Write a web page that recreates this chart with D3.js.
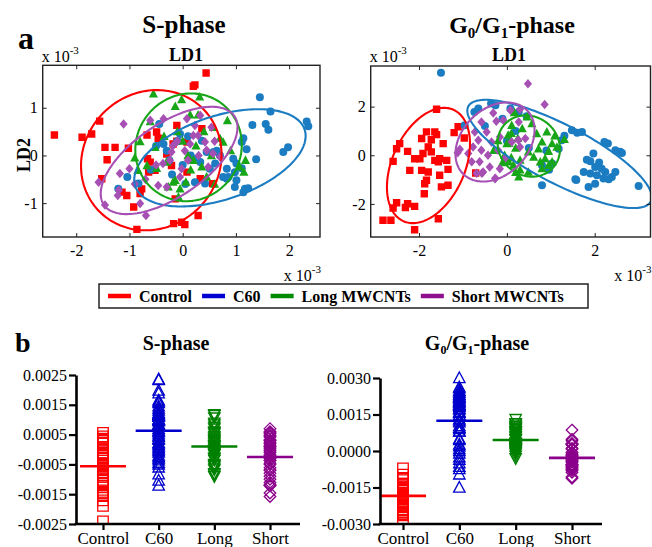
<!DOCTYPE html>
<html>
<head>
<meta charset="utf-8">
<script src="https://cdn.jsdelivr.net/npm/d3@7"></script>
<style>
  body { margin: 0; background: #fff; }
  svg { display: block; }
</style>
</head>
<body>
<svg id="fig" width="652" height="547"></svg>
<script>
// ---------- data ----------
const groups = ["Control", "C60", "Long MWCNTs", "Short MWCNTs"];
const groupsShort = ["Control", "C60", "Long", "Short"];

// S-phase discriminant scores [LD1, LD2] (x10^-3)
const sControl = [[-2.41,0.43],[-1.89,0.38],[-1.71,0.45],[-1.56,0.72],[-1.46,0.17],[-1.27,0.17],[-1.42,-0.09],[-1.02,0.15],[-1.52,-0.49],[-1.14,-0.77],[-1.05,-0.84],[-0.92,-1.08],[-0.8,-0.8],[-0.86,-1.55],[-0.67,0.43],[-0.49,0.49],[-0.46,0.36],[-0.66,-0.07],[-0.61,-0.14],[-0.64,-0.35],[-0.52,-0.31],[-0.3,0.03],[-0.18,0.24],[-0.21,-0.21],[-0.17,-1.43],[-0.02,-1.4],[-0.11,0.3],[-0.77,-0.7],[-0.11,0.63],[-0.14,-0.91],[0.44,1.73],[0.23,1.48],[0.2,1.45],[0.29,-1.26],[0.04,-1.45],[0.56,-0.59],[0.33,-0.49],[0.36,0.56],[0.08,-0.35],[0.08,0.28]];
const sC60 = [[1.45,1.22],[1.65,0.92],[1.31,0.64],[1.56,0.66],[1.61,0.54],[2.33,0.71],[2.36,0.61],[1.89,0.07],[1.98,0.17],[1.38,-0.08],[1.14,0.36],[1.2,0.13],[1.11,0.28],[0.95,-0.07],[1.01,-0.17],[0.98,-0.35],[1.01,-0.52],[0.98,-0.66],[1.17,-0.7],[1.23,-0.69],[1.14,-0.77],[1.11,-0.27],[0.86,-0.45],[0.83,-0.49],[0.64,0.1],[0.58,0.07],[0.45,0.07],[0.7,0.0],[0.51,-0.28],[0.42,-0.59],[0.23,-0.56],[0.33,-0.14],[0.36,0.31],[0.2,-0.07],[0.61,-0.17],[0.83,-0.28],[0.76,-0.45],[-1.04,-0.45],[-1.21,-0.7],[-0.83,-0.59],[-0.44,0.66],[-0.36,0.24],[-0.05,0.45],[-0.6,-0.3],[-0.3,0.1],[-0.2,-0.4],[-0.1,0.3],[0.0,-0.2],[0.1,0.4],[-0.5,0.2],[0.05,-0.6],[-0.25,-0.1],[0.15,0.0]];
const sLong = [[-0.55,1.29],[-0.14,1.03],[-0.8,0.29],[-0.61,0.71],[-0.52,0.17],[-0.49,-0.27],[-0.67,-0.21],[-0.3,-0.14],[-0.14,-0.52],[-0.27,-0.66],[-0.05,-0.7],[-0.08,-0.87],[-0.02,1.17],[0.32,1.23],[0.14,0.85],[0.29,0.85],[0.84,0.73],[0.58,0.59],[0.7,0.36],[0.54,0.0],[0.2,-0.1],[0.06,-0.56],[0.36,-0.24],[1.15,-0.35],[1.07,-0.24],[0.76,0.28],[-0.84,-0.31],[-0.18,-0.56],[-0.9,-0.05],[0.0,0.3],[0.1,0.0],[0.4,0.5],[0.25,0.2],[-0.1,0.5],[0.45,-0.45],[0.6,-0.6],[0.15,-0.3],[-0.35,0.4],[0.9,0.1],[1.18,-0.1]];
const sShort = [[-1.11,0.66],[-1.58,-0.56],[-1.46,-1.04],[-1.18,-0.38],[-1.0,-0.28],[-1.22,-0.84],[-1.2,-0.73],[-0.69,-1.26],[-0.3,-0.66],[-0.36,0.77],[-0.21,0.07],[-0.8,-1.01],[-0.46,-0.63],[0.23,0.63],[0.54,0.59],[0.2,0.42],[0.29,0.42],[0.14,0.24],[0.42,0.28],[0.04,0.1],[0.7,-0.03],[-0.02,-0.28],[0.33,0.84],[0.08,0.77],[-0.61,0.74],[-0.18,0.21],[0.45,0.11],[0.57,0.04],[0.48,-0.24],[-0.24,-0.1],[-0.37,-0.17],[-0.1,0.3],[-0.5,-0.2],[-0.7,-0.5],[-0.9,-0.6],[-0.05,-0.45],[0.1,-0.1],[0.3,0.0],[0.6,0.3]];

// G0/G1-phase discriminant scores [LD1, LD2] (x10^-3)
const gControl = [[-1.6,1.89],[-1.11,1.17],[-1.2,0.93],[-0.97,0.71],[-1.83,0.96],[-1.64,0.96],[-1.6,0.85],[-1.94,0.69],[-1.72,0.64],[-1.45,0.48],[-1.79,0.34],[-2.44,0.48],[-2.51,0.27],[-2.26,0.16],[-2.59,-0.25],[-2.1,-0.14],[-1.98,-0.14],[-1.91,0.07],[-1.72,0.14],[-1.64,-0.21],[-1.53,-0.14],[-1.37,-0.21],[-1.56,-0.27],[-2.21,-0.62],[-1.94,-0.62],[-1.79,-0.69],[-1.53,-0.82],[-1.34,-0.58],[-1.83,-1.03],[-1.87,-1.17],[-1.49,-1.3],[-1.34,-1.23],[-1.88,-1.58],[-2.51,-1.95],[-2.59,-2.17],[-2.31,-2.15],[-2.26,-1.99],[-2.1,-2.1],[-2.82,-2.67],[-2.64,-2.67],[-2.1,-3.06],[-1.56,-2.61],[-0.71,-0.73]];
const gC60 = [[-1.5,3.39],[-0.96,1.23],[-0.74,1.78],[-0.65,1.92],[-0.36,2.13],[-0.26,2.06],[0.08,1.92],[0.27,1.78],[0.45,1.6],[1.48,1.03],[1.6,0.93],[1.31,0.8],[2.22,0.55],[2.3,0.48],[2.47,0.21],[2.58,0.14],[1.97,0.07],[1.82,-0.18],[1.9,-0.25],[1.75,-0.69],[1.56,-0.99],[2.01,-0.48],[2.16,-0.55],[2.24,-0.69],[2.39,-0.89],[2.2,-0.96],[2.32,-0.99],[2.47,-0.69],[1.86,-1.3],[2.01,-1.17],[2.05,-0.82],[3.0,-1.26],[1.25,0.62],[1.18,0.27],[1.03,-0.34],[0.8,-1.23],[0.8,-0.41],[0.96,-0.6],[1.71,0.96],[2.62,0.09],[1.58,-1.02],[1.9,-0.75],[2.1,-0.3],[0.2,1.0],[0.5,0.3],[-0.5,1.2],[0.0,0.6],[0.9,0.2],[-0.1,1.5]];
const gLong = [[0.17,1.76],[0.46,1.58],[0.11,1.23],[0.57,1.3],[0.68,0.89],[0.91,0.96],[1.09,0.8],[1.31,0.66],[0.8,0.55],[1.03,0.48],[0.72,0.27],[0.95,0.16],[1.14,0.34],[0.49,0.14],[0.61,-0.07],[0.87,-0.14],[0.76,-0.27],[1.03,-0.27],[0.27,-0.89],[0.49,-0.69],[0.95,-0.41],[0.8,-0.55],[0.04,-0.27],[0.0,0.48],[0.03,0.83],[0.3,-0.6],[-0.3,0.2],[-0.2,0.6],[-0.1,-0.3],[0.1,0.9],[0.2,0.3],[0.15,-0.4],[0.3,-0.2],[0.25,0.7],[0.05,0.5],[0.35,1.1],[0.2,-0.7],[-0.05,0.0],[0.1,-0.1]];
const gShort = [[-0.31,1.74],[-0.24,1.4],[-0.08,1.44],[-0.58,1.37],[-0.73,0.96],[-0.65,0.62],[-0.46,0.96],[-0.35,0.55],[-0.16,0.75],[-1.07,0.25],[-0.88,0.07],[-0.77,0.34],[-0.58,0.21],[-0.43,0.0],[-0.2,0.21],[-0.05,-0.14],[-0.8,-0.27],[-0.62,-0.27],[-0.54,-0.69],[-0.27,-0.96],[-0.16,-0.55],[-0.39,-0.48],[0.48,2.94],[0.86,2.09],[0.08,1.85],[0.3,1.89],[0.27,1.37],[0.42,0.69],[0.3,0.34],[0.11,0.55],[-0.69,-0.74],[-0.57,-0.74],[-0.26,-0.94],[0.26,0.63],[-1.12,0.1]];

// Confidence ellipses per group: [centre LD1, centre LD2, half-width, half-height, correlation]
const sEllipses = [[-0.59,-0.1,1.32,1.47,0.08],[0.7,-0.05,1.61,1.02,0.45],[0.11,0.17,1.0,1.13,0.05],[-0.255,-0.105,1.285,1.125,0.62]];
const gEllipses = [[-1.785,-0.42,0.945,2.37,0.376],[1.2,0.055,2.1,2.225,-0.8],[0.5,0.38,0.71,1.26,-0.1],[-0.27,0.545,0.9,1.625,0.3]];

// Axis ticks
const sTicksX = [-2, -1, 0, 1, 2];
const sTicksY = [-1, 0, 1];
const gTicksX = [-2, 0, 2];
const gTicksY = [-2, 0, 2];
const sTicksB = [-0.0025, -0.0015, -0.0005, 0.0005, 0.0015, 0.0025];
const gTicksB = [-0.003, -0.0015, 0, 0.0015, 0.003];

// ---------- styles ----------
const FONT = '"Liberation Serif", "DejaVu Serif", "Noto Serif", "Times New Roman", Times, serif';
const scatterColors = ["#ff0000", "#1b7cc2", "#17a617", "#a650b4"];
const legendColors  = ["#ff0000", "#0000d0", "#008a00", "#8e0f8e"];
const dotColors     = ["#ff0000", "#0000cc", "#008000", "#8b008b"];

const svg = d3.select("#fig").attr("font-family", FONT).style("font-family", FONT);

// marker path builders (pixel units, centred at 0,0)
const shapes = {
  square: s => `M${-s/2},${-s/2}h${s}v${s}h${-s}Z`,
  triUp: s => `M0,${-s*0.55}L${s*0.52},${s*0.42}L${-s*0.52},${s*0.42}Z`,
  triDown: s => `M0,${s*0.55}L${s*0.52},${-s*0.42}L${-s*0.52},${-s*0.42}Z`,
  diamond: s => `M0,${-s*0.58}L${s*0.5},0L0,${s*0.58}L${-s*0.5},0Z`,
  diamondB: s => `M0,${-s/2}L${s/2},0L0,${s/2}L${-s/2},0Z`
};

function txt(parent) {
  return parent.append("text").attr("font-family", FONT).style("font-family", FONT).attr("fill", "#000");
}

// ---------- panel a: LDA score plots ----------
function scatterPanel(cfg) {
  const x = d3.scaleLinear().domain(cfg.xDomain).range([cfg.x0, cfg.x1]);
  const y = d3.scaleLinear().domain(cfg.yDomain).range([cfg.y1, cfg.y0]);
  const g = svg.append("g");
  const clipId = "clip-" + cfg.id;
  svg.append("clipPath").attr("id", clipId).append("rect")
    .attr("x", cfg.x0).attr("y", cfg.y0)
    .attr("width", cfg.x1 - cfg.x0).attr("height", cfg.y1 - cfg.y0);

  const plot = g.append("g").attr("clip-path", `url(#${clipId})`);

  // points: squares, circles, triangles, diamonds
  cfg.sets.forEach((pts, i) => {
    const layer = plot.append("g").attr("fill", scatterColors[i]);
    if (i === 1) {
      layer.selectAll("circle").data(pts).join("circle")
        .attr("cx", d => x(d[0])).attr("cy", d => y(d[1])).attr("r", 4);
    } else {
      const p = i === 0 ? shapes.square(7.4) : i === 2 ? shapes.triUp(8.8) : shapes.diamond(8.2);
      layer.selectAll("path").data(pts).join("path")
        .attr("transform", d => `translate(${x(d[0])},${y(d[1])})`)
        .attr("d", p);
    }
  });

  // ellipses
  const ts = d3.range(0, 2 * Math.PI, Math.PI / 90);
  const line = d3.line().curve(d3.curveLinearClosed);
  cfg.ellipses.forEach((e, i) => {
    const [cx, cy, a, b, r] = e;
    const s = Math.sqrt(1 - r * r);
    const pts = ts.map(t => [x(cx + a * Math.cos(t)), y(cy + b * (r * Math.cos(t) + s * Math.sin(t)))]);
    plot.append("path").attr("d", line(pts))
      .attr("fill", "none").attr("stroke", scatterColors[i]).attr("stroke-width", 2.1);
  });

  // frame and ticks
  const axStyle = sel => {
    sel.attr("font-family", FONT);
    sel.select(".domain").remove();
    sel.selectAll(".tick line").attr("stroke", "#222").attr("stroke-width", 1);
    sel.selectAll("text").attr("font-size", 16).style("font-family", FONT);
  };
  const fmt = d => String(d);
  g.append("g").attr("transform", `translate(0,${cfg.y1})`)
    .call(d3.axisBottom(x).tickValues(cfg.xTicks).tickSize(-4).tickPadding(8).tickFormat(fmt)).call(axStyle);
  g.append("g").attr("transform", `translate(0,${cfg.y0})`)
    .call(d3.axisTop(x).tickValues(cfg.xTicks).tickSize(-4).tickFormat("")).call(axStyle);
  g.append("g").attr("transform", `translate(${cfg.x0},0)`)
    .call(d3.axisLeft(y).tickValues(cfg.yTicks).tickSize(-4).tickPadding(5).tickFormat(fmt)).call(axStyle);
  g.append("g").attr("transform", `translate(${cfg.x1},0)`)
    .call(d3.axisRight(y).tickValues(cfg.yTicks).tickSize(-4).tickFormat("")).call(axStyle);
  g.append("rect").attr("x", cfg.x0).attr("y", cfg.y0)
    .attr("width", cfg.x1 - cfg.x0).attr("height", cfg.y1 - cfg.y0)
    .attr("fill", "none").attr("stroke", "#222").attr("stroke-width", 1.4);

  // labels
  txt(g).attr("x", cfg.ld1x).attr("y", 61).attr("text-anchor", "middle")
    .attr("font-size", 18).attr("font-weight", "bold").text("LD1");
  const exp = (tx, ty, anchor) => {
    const t = txt(g).attr("x", tx).attr("y", ty).attr("text-anchor", anchor).attr("font-size", 16);
    t.append("tspan").text("x 10");
    t.append("tspan").attr("font-size", 11).attr("dy", -8).text("-3");
  };
  exp(cfg.x0 - 1, 62, "start");
  exp(cfg.x1 + 1, 281, "end");
}

scatterPanel({
  id: "s", x0: 42.7, x1: 320, y0: 65.3, y1: 237,
  xDomain: [-2.63, 2.58], yDomain: [-1.71, 1.89],
  xTicks: sTicksX, yTicks: sTicksY, ld1x: 186,
  sets: [sControl, sC60, sLong, sShort], ellipses: sEllipses
});
scatterPanel({
  id: "g", x0: 370.7, x1: 650.5, y0: 66, y1: 237,
  xDomain: [-3.1, 3.27], yDomain: [-3.36, 3.67],
  xTicks: gTicksX, yTicks: gTicksY, ld1x: 509,
  sets: [gControl, gC60, gLong, gShort], ellipses: gEllipses
});

// panel a titles
txt(svg).attr("x", 18).attr("y", 49).attr("font-size", 32).attr("font-weight", "bold").text("a");
txt(svg).attr("x", 184).attr("y", 33).attr("text-anchor", "middle")
  .attr("font-size", 25).attr("font-weight", "bold").text("S-phase");
function phaseTitle(tx, ty, size) {
  const t = txt(svg).attr("x", tx).attr("y", ty).attr("text-anchor", "middle")
    .attr("font-size", size).attr("font-weight", "bold");
  const sub = Math.round(size * 0.62), sh = Math.round(size * 0.22);
  t.append("tspan").text("G");
  t.append("tspan").attr("font-size", sub).attr("dy", sh).text("0");
  t.append("tspan").attr("dy", -sh).text("/G");
  t.append("tspan").attr("font-size", sub).attr("dy", sh).text("1");
  t.append("tspan").attr("dy", -sh).text("-phase");
}
phaseTitle(512, 33, 24);
txt(svg).attr("transform", "translate(30,155) rotate(-90)").attr("text-anchor", "middle")
  .attr("font-size", 18).attr("font-weight", "bold").text("LD2");

// legend
const leg = svg.append("g");
leg.append("rect").attr("x", 99).attr("y", 284).attr("width", 489).attr("height", 24)
  .attr("fill", "#fff").attr("stroke", "#222").attr("stroke-width", 1.5);
let lx = 108;
groups.forEach((name, i) => {
  leg.append("line").attr("x1", lx).attr("x2", lx + 23).attr("y1", 296).attr("y2", 296)
    .attr("stroke", legendColors[i]).attr("stroke-width", 4.5);
  const t = txt(leg).attr("x", lx + 31).attr("y", 301.5)
    .attr("font-size", 16).attr("font-weight", "bold").text(name);
  lx = lx + 31 + t.node().getComputedTextLength() + 10;
});

// ---------- panel b: LD1 dot plots ----------
const markerB = [shapes.square(10.5), shapes.triUp(11), shapes.triDown(11), shapes.diamondB(11.5)];

function dotPanel(cfg) {
  const x = d3.scalePoint().domain(groupsShort).range([cfg.c0, cfg.c1]);
  const y = d3.scaleLinear().domain(cfg.yDomain).range([cfg.y1, cfg.y0]);
  const g = svg.append("g");
  const clipId = "clipb-" + cfg.id;
  svg.append("clipPath").attr("id", clipId).append("rect")
    .attr("x", cfg.x0).attr("y", cfg.y0 - 10).attr("width", cfg.x1 - cfg.x0).attr("height", cfg.y1 - cfg.y0 + 10);
  const plot = g.append("g").attr("clip-path", `url(#${clipId})`);

  cfg.sets.forEach((pts, i) => {
    const cx = x(groupsShort[i]);
    const vals = pts.map(d => d[0] * 1e-3);
    plot.append("g").selectAll("path").data(vals).join("path")
      .attr("transform", v => `translate(${cx},${y(v)})`)
      .attr("d", markerB[i]).attr("fill", "none")
      .attr("stroke", dotColors[i]).attr("stroke-width", 1.3);
    const m = d3.mean(vals);
    plot.append("line").attr("x1", cx - 23).attr("x2", cx + 23)
      .attr("y1", y(m)).attr("y2", y(m))
      .attr("stroke", dotColors[i]).attr("stroke-width", 2.6);
  });

  const yAxis = g.append("g").attr("transform", `translate(${cfg.x0},0)`)
    .call(d3.axisLeft(y).tickValues(cfg.ticks).tickSize(7).tickSizeOuter(0).tickPadding(2)
      .tickFormat(v => v.toFixed(4)));
  yAxis.attr("font-family", FONT);
  yAxis.select(".domain").attr("stroke", "#000").attr("stroke-width", 2.6);
  yAxis.selectAll(".tick line").attr("stroke", "#000").attr("stroke-width", 2.2);
  yAxis.selectAll("text").attr("font-size", 16).style("font-family", FONT);

  const xAxis = g.append("g").attr("transform", `translate(0,${cfg.y1})`)
    .call(d3.axisBottom(x).tickSize(6).tickPadding(2));
  xAxis.attr("font-family", FONT);
  xAxis.select(".domain").remove();
  xAxis.selectAll(".tick line").attr("stroke", "#000").attr("stroke-width", 2.2);
  xAxis.selectAll("text").attr("font-size", 17).style("font-family", FONT);
  g.append("line").attr("x1", cfg.x0 - 1.3).attr("x2", cfg.x1).attr("y1", cfg.y1).attr("y2", cfg.y1)
    .attr("stroke", "#000").attr("stroke-width", 2.6);
}

dotPanel({ id: "s", x0: 76, x1: 300, y0: 375, y1: 524, c0: 103, c1: 270,
  yDomain: [-0.0025, 0.0025], ticks: sTicksB, sets: [sControl, sC60, sLong, sShort] });
dotPanel({ id: "g", x0: 380, x1: 602, y0: 378, y1: 524, c0: 403, c1: 572,
  yDomain: [-0.003, 0.003], ticks: gTicksB, sets: [gControl, gC60, gLong, gShort] });

txt(svg).attr("x", 15).attr("y", 352).attr("font-size", 28).attr("font-weight", "bold").text("b");
txt(svg).attr("x", 176).attr("y", 350).attr("text-anchor", "middle")
  .attr("font-size", 20).attr("font-weight", "bold").text("S-phase");
phaseTitle(477, 350, 20);
</script>
</body>
</html>
